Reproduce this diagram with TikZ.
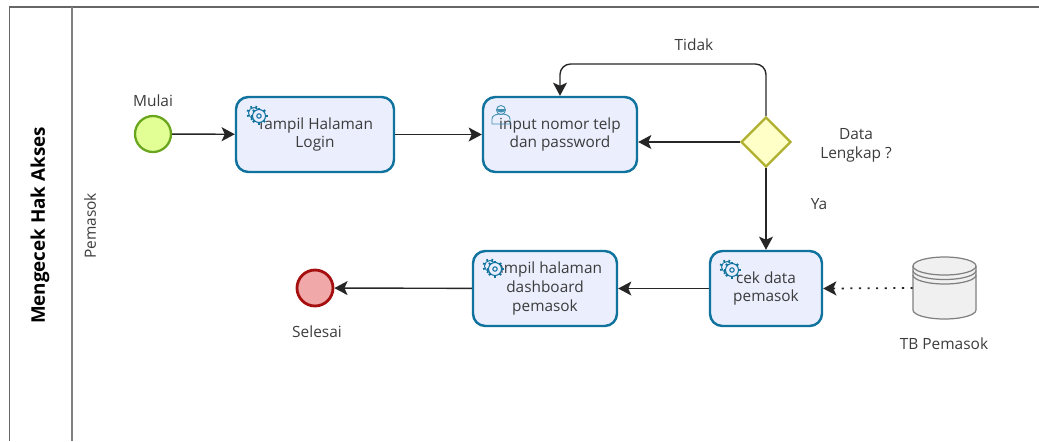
\documentclass[tikz,border=0pt]{standalone}
\usepackage{fontspec}
\setmainfont{Open Sans}
\usetikzlibrary{shapes.geometric,arrows.meta,calc}
\definecolor{taskfill}{HTML}{EAEEFD}
\definecolor{taskline}{HTML}{10739E}
\definecolor{textgray}{HTML}{3C3C3C}
\tikzset{
    task/.style={draw=taskline, fill=taskfill, line width=1.4pt, rounded corners=7pt, align=center, text=textgray, inner sep=0pt, minimum height=1.5cm, font=\fontsize{8.75}{10.8}\selectfont},
    label/.style={text=textgray, align=center, inner sep=0pt, font=\fontsize{8.8}{10.8}\selectfont},
    flow/.style={-{Stealth[length=7.5pt,width=8pt,inset=1.8pt]}, line width=0.8pt, black!85},
    gearicon/.pic={
        \draw[taskline, line width=0.5pt, fill=taskfill] (-5,-3) circle (5.5);
        \foreach \a in {0,45,...,315} {
            \draw[taskline, line width=1pt] ($(-5,-3)+(\a+20:5.5)$) -- ($(-5,-3)+(\a+20:7.5)$);
        }
        \foreach \a in {0,45,...,315} {
            \draw[taskline, line width=1.2pt] (\a:6) -- (\a:8.5);
        }
        \draw[taskline, line width=0.6pt, fill=taskfill] (0,0) circle (6.5);
        \draw[taskline, line width=0.6pt] (0,0) circle (2.2);
    },
    usericon/.pic={
        \draw[taskline!80, line width=0.5pt] (-9,9) -- (-9,4) .. controls (-9,0) and (-4,-1) .. (0,-1) .. controls (4,-1) and (9,0) .. (9,4) -- (9,9) -- cycle;
        \draw[taskline!80, line width=0.5pt, fill=taskfill] (0,-5) circle (4.5);
        \fill[taskline!80] (-4.5,-6) arc (180:0:4.5 and 3.5) -- cycle;
    },
}
\begin{document}
\begin{tikzpicture}[x=0.02cm, y=-0.02cm]
    \useasboundingbox (0,0) rectangle (1039,441);

    % pool
    \draw[black!60, line width=0.8pt] (1039,7) -- (9.5,7) -- (9.5,441);
    \draw[black!50, line width=0.8pt] (72,7) -- (72,441);
    \node (pool_title) [rotate=90, font=\fontsize{10.7}{12}\selectfont\bfseries] at (40,225.5) {Mengecek Hak Akses};
    \node (lane_title) [label, rotate=90] at (90,226) {Pemasok};

    % events
    \node (mulai) [circle, draw={rgb,255:red,106;green,165;blue,30}, fill={rgb,255:red,226;green,255;blue,150}, line width=1.3pt, minimum size=0.72cm, inner sep=0pt] at (153,134) {};
    \node (selesai) [circle, draw={rgb,255:red,165;green,15;blue,15}, fill={rgb,255:red,240;green,168;blue,168}, line width=1.6pt, minimum size=0.72cm, inner sep=0pt] at (315,288) {};
    \node (mulai_label) [label] at (153,101) {Mulai};
    \node (selesai_label) [label] at (317,332) {Selesai};

    % tasks
    \node (tampil_login) [task, minimum width=3.16cm] at (315,134.5) {Tampil Halaman\\Login};
    \node (input_login) [task, minimum width=3.08cm] at (560,134.5) {input nomor telp\\dan password};
    \node (cek_data) [task, minimum width=2.24cm] at (766,288.5) {cek data\\pemasok};
    \node (tampil_dashboard) [task, minimum width=2.88cm] at (545,288.5) {Tampil halaman\\dashboard\\pemasok};

    % task icons
    \pic at (259,116) {gearicon};
    \pic at (732,270) {gearicon};
    \pic at (495,269) {gearicon};
    \pic at (501,115) {usericon};

    % gateway
    \node (cek_lengkap) [diamond, aspect=1, draw={rgb,255:red,176;green,176;blue,48}, fill={rgb,255:red,255;green,255;blue,200}, line width=1.3pt, minimum size=1cm, inner sep=0pt] at (766,142) {};
    \node (lengkap_label) [label] at (856,145) {Data\\Lengkap ?};
    \node (tidak_label) [label] at (694,45) {Tidak};
    \node (ya_label) [label] at (819,204) {Ya};

    % data store
    \node (tb_pemasok) [minimum width=1.26cm, minimum height=1.24cm, inner sep=0pt] at (944.5,288) {};
    \draw[black!50, fill=black!6, line width=0.7pt] (913,266) -- (913,310) arc (180:0:31.5 and 9) -- (976,266) arc (0:-180:31.5 and 9) -- cycle;
    \draw[black!50, line width=0.7pt] (913,266) arc (180:0:31.5 and 9);
    \draw[black!50, line width=0.7pt] (913,270.5) arc (180:0:31.5 and 9);
    \draw[black!50, line width=0.7pt] (913,275) arc (180:0:31.5 and 9);
    \node (tb_label) [label] at (944,344) {TB Pemasok};

    % flows
    \coordinate (tidak_kanan) at (766,64);
    \coordinate (tidak_kiri) at (560,64);
    \draw[flow] (mulai) -- (tampil_login);
    \draw[flow] (tampil_login) -- (input_login);
    \draw[flow] (cek_lengkap) -- (input_login.east |- cek_lengkap);
    \draw[flow, rounded corners=6pt] (cek_lengkap.north) -- (tidak_kanan) -- (tidak_kiri) -- (input_login.north);
    \draw[flow] (cek_lengkap) -- (cek_data);
    \draw[flow] (cek_data) -- (tampil_dashboard);
    \draw[flow] (tampil_dashboard) -- (selesai);
    \draw[flow, line width=1pt, dash pattern=on 1.2pt off 3.7pt] (tb_pemasok.west) -- (cek_data.east);
\end{tikzpicture}
\end{document}
